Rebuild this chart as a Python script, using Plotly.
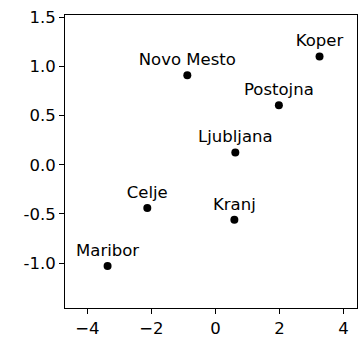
import plotly.graph_objects as go

cities = ["Koper", "Novo Mesto", "Postojna", "Ljubljana", "Celje", "Maribor", "Kranj"]
x_vals = [3.25, -0.88, 1.98, 0.62, -2.13, -3.37, 0.59]
y_vals = [1.10, 0.91, 0.606, 0.125, -0.44, -1.03, -0.56]

x_ticks = [-4, -2, 0, 2, 4]
y_ticks = [-1.0, -0.5, 0.0, 0.5, 1.0, 1.5]
y_tick_text = ["-1.0", "-0.5", "0.0", "0.5", "1.0", "1.5"]

font_family = "DejaVu Sans"

fig = go.Figure()
fig.add_trace(go.Scatter(
    x=x_vals, y=y_vals, mode="markers+text", text=cities,
    textposition="top center",
    textfont=dict(family=font_family, size=16.5, color="black"),
    marker=dict(color="black", size=8),
    showlegend=False, cliponaxis=False,
))

axis_common = dict(
    showgrid=False, zeroline=False, showline=True, linecolor="black",
    linewidth=1.1, mirror=True, ticks="outside", ticklen=5, tickwidth=1.1,
    tickcolor="black", tickfont=dict(family=font_family, size=16.5, color="black"),
    automargin=False,
)

fig.update_xaxes(range=[-4.70, 4.42], tickvals=x_ticks, **axis_common)
fig.update_yaxes(range=[-1.456, 1.523], tickvals=y_ticks, ticktext=y_tick_text, **axis_common)

fig.update_layout(
    width=362, height=337,
    margin=dict(l=65, r=5, t=14.5, b=29, pad=0),
    plot_bgcolor="white", paper_bgcolor="white",
    font=dict(family=font_family),
)

fig.write_html("out.html", config={"displayModeBar": False},
               post_script="document.body.style.margin='0';")
